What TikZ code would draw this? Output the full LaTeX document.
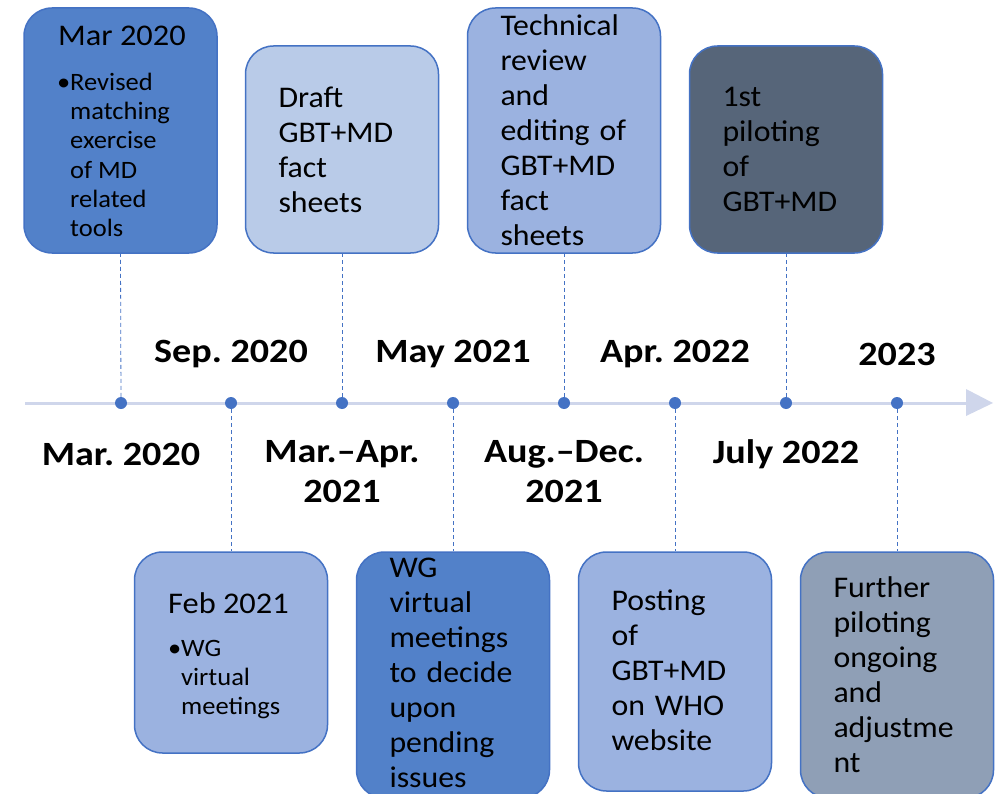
\documentclass[tikz,border=0pt]{standalone}
\usepackage{fontspec}
\setmainfont{Carlito}
\newfontfamily\boxfont{Carlito}[FakeStretch=1.06]
\newfontfamily\titlefont{Carlito}[FakeStretch=1.08]
\newfontfamily\datefont{Carlito}[FakeStretch=1.12]
\frenchspacing
\definecolor{accent}{HTML}{4472C4}
\definecolor{axis}{HTML}{CFD6EB}
\definecolor{fillA}{HTML}{5281C9}
\definecolor{fillB}{HTML}{B9CBE8}
\definecolor{fillC}{HTML}{9BB2E0}
\definecolor{fillD}{HTML}{566579}
\definecolor{fillE}{HTML}{8F9FB6}
\tikzset{
  evbox/.style={draw=accent, line width=1.5pt, rounded corners=28pt, minimum width=193pt, inner sep=0pt},
  evtext/.style={text width=130pt, align=left, inner sep=0pt, font=\boxfont\fontsize{30}{35}\selectfont},
  evtitle/.style={anchor=west, inner sep=0pt, font=\titlefont\fontsize{30}{34}\selectfont},
  evbody/.style={anchor=north west, align=left, inner sep=0pt, font=\boxfont\fontsize{25}{29.2}\selectfont},
  dot/.style={circle, fill=accent, minimum size=12pt, inner sep=0pt},
  conn/.style={draw=accent, line width=0.8pt, dash pattern=on 4pt off 3pt},
  datelbl/.style={font=\datefont\fontsize{34}{40}\selectfont\bfseries, align=center, inner sep=0pt}
}
\begin{document}
\begin{tikzpicture}[x=1pt,y=-1pt]
\useasboundingbox (0,0) rectangle (1000,794);
% axis
\coordinate (axstart) at (25,403);
\coordinate (axend) at (966,403);
\draw[axis, line width=3pt] (axstart) -- (axend);
\fill[axis] (966,389) -- (993,403) -- (966,416) -- cycle;
% dots
\node[dot] (d1) at (121,403) {};
\node[dot] (d2) at (231,403) {};
\node[dot] (d3) at (342,403) {};
\node[dot] (d4) at (453,403) {};
\node[dot] (d5) at (564,403) {};
\node[dot] (d6) at (675,403) {};
\node[dot] (d7) at (786,403) {};
\node[dot] (d8) at (897,403) {};
% top boxes
\node[evbox, fill=fillA, minimum height=245pt] (b1) at (120.5,130.5) {};
\node[evbox, fill=fillB, minimum height=207pt] (b3) at (342,149.5) {};
\node[evbox, fill=fillC, minimum height=245pt] (b5) at (564,130.5) {};
\node[evbox, fill=fillD, minimum height=207pt] (b7) at (786,149.5) {};
% bottom boxes
\node[evbox, fill=fillC, minimum height=201pt] (b2) at (231,652.5) {};
\node[evbox, fill=fillA, minimum height=246pt] (b4) at (453,675) {};
\node[evbox, fill=fillC, minimum height=239pt] (b6) at (675,671.5) {};
\node[evbox, fill=fillE, minimum height=246pt] (b8) at (897,675) {};
% connectors
\draw[conn] (d1) -- (b1.south);
\draw[conn] (d3) -- (b3.south);
\draw[conn] (d5) -- (b5.south);
\draw[conn] (d7) -- (b7.south);
\draw[conn] (d2) -- (b2.north);
\draw[conn] (d4) -- (b4.north);
\draw[conn] (d6) -- (b6.north);
\draw[conn] (d8) -- (b8.north);
% box texts
\node[evtitle] (t1) at (58,36) {Mar 2020};
\node[evbody] (s1) at (70,73) {\llap{\textbullet}Revised\\matching\\exercise\\of MD\\related\\tools};
\node[evtext] (t3) at ([xshift=1.5pt]b3.center) {Draft\\GBT+MD\\fact\\sheets};
\node[evtext] (t5) at ([xshift=1.5pt]b5.center) {Technical\\review\\and\\editing of\\GBT+MD\\fact\\sheets};
\node[evtext] (t7) at ([xshift=1.5pt]b7.center) {1st\\piloting\\of\\GBT+MD};
\node[evtitle] (t2) at (168,603) {Feb 2021};
\node[evbody] (s2) at (181,640) {\llap{\textbullet}WG\\virtual\\meetings};
\node[evtext] (t4) at ([xshift=1.5pt,yshift=2pt]b4.center) {WG\\virtual\\meetings\\to decide\\upon\\pending\\issues};
\node[evtext] (t6) at ([xshift=1.5pt,yshift=1pt]b6.center) {Posting\\of\\GBT+MD\\on WHO\\website};
\node[evtext] (t8) at ([xshift=1.5pt]b8.center) {Further\\piloting\\ongoing\\and\\adjustme\\nt};
% date labels
\node[datelbl] (l2) at (231,354) {Sep. 2020};
\node[datelbl] (l4) at (453,354) {May 2021};
\node[datelbl] (l6) at (675,354) {Apr. 2022};
\node[datelbl] (l8) at (897,354) {2023};
\node[datelbl] (l1) at (121,454) {Mar. 2020};
\node[datelbl, anchor=north] (l3) at (342,440) {Mar.–Apr.\\2021};
\node[datelbl, anchor=north] (l5) at (564,440) {Aug.–Dec.\\2021};
\node[datelbl] (l7) at (786,454) {July 2022};
\end{tikzpicture}
\end{document}
